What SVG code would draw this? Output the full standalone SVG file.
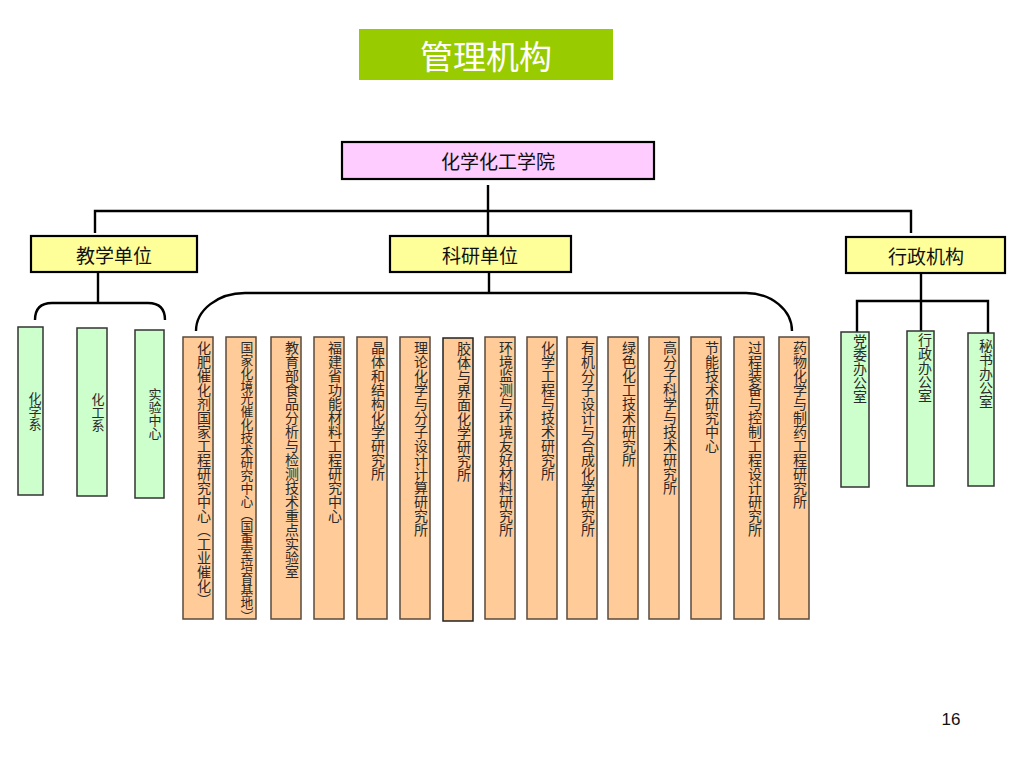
<svg xmlns="http://www.w3.org/2000/svg" width="1024" height="768" viewBox="0 0 1024 768">
<style>
text{font-family:"Noto Sans CJK SC","Noto Sans",sans-serif;fill:#111}
.hdr{stroke:#000;stroke-width:2.2}
.head{font-size:19px;text-anchor:middle;dominant-baseline:central}
.or{fill:#FFCC99;stroke:#5a4a3c;stroke-width:1.5}
.gr{fill:#CCFFCC;stroke:#333;stroke-width:1.5}
.vt{writing-mode:vertical-rl;font-size:14px;fill:#2a2a2a}
.vs{writing-mode:vertical-rl;font-size:12.8px;fill:#2a2a2a}
.vc{writing-mode:vertical-rl;font-size:13px;text-anchor:middle;fill:#2a2a2a}
.ln{fill:none;stroke:#000;stroke-width:2.4}
</style>
<rect width="1024" height="768" fill="#fff"/>
<g id="title">
<rect x="359" y="29" width="254" height="51" fill="#99CC00"/>
<text x="486" y="55" font-size="33" text-anchor="middle" dominant-baseline="central" style="fill:#fff">管理机构</text>
</g>
<g id="connectors">
<path class="ln" d="M488,185 V236 M95,233 V211 H911 V233"/>
<path class="ln" d="M98,273 V303 M35,320 Q35,303 52,303 H148 Q165,303 165,320"/>
<path class="ln" d="M489,273 V293 M196,331 A49 38 0 0 1 245,293 H746 A46 38 0 0 1 792,331"/>
<path class="ln" d="M921,273 V331 M857,332 V301 H988 V333"/>
</g>
<g id="root"><rect class="hdr" x="342" y="142" width="312" height="37" fill="#FFCCFF"/><text class="head" x="498" y="160">化学化工学院</text></g>
<g id="teach"><rect class="hdr" x="31" y="236" width="166" height="36" fill="#FFFF99"/><text class="head" x="114" y="254">教学单位</text></g>
<g id="research"><rect class="hdr" x="390" y="236" width="181" height="36" fill="#FFFF99"/><text class="head" x="480" y="254">科研单位</text></g>
<g id="admin"><rect class="hdr" x="846" y="237" width="159" height="36" fill="#FFFF99"/><text class="head" x="926" y="255">行政机构</text></g>
<g id="t1"><rect class="gr" x="18" y="327" width="25" height="168"/><text class="vc" x="35" y="411">化学系</text></g>
<g id="t2"><rect class="gr" x="77" y="328" width="30" height="168"/><text class="vc" x="98" y="412">化工系</text></g>
<g id="t3"><rect class="gr" x="135" y="330" width="29" height="168"/><text class="vc" x="155" y="414">实验中心</text></g>
<g id="r1"><rect class="or" x="183" y="337" width="30" height="282"/><text class="vt" x="204" y="341">化肥催化剂国家工程研究中心（工业催化）</text></g>
<g id="r2"><rect class="or" x="226" y="337" width="30" height="282"/><text class="vs" x="247" y="341">国家化境光催化技术研究中心（国重室培育基地）</text></g>
<g id="r3"><rect class="or" x="271" y="337" width="30" height="282"/><text class="vt" x="292" y="341">教育部食品分析与检测技术重点实验室</text></g>
<g id="r4"><rect class="or" x="314" y="337" width="30" height="282"/><text class="vt" x="335" y="341">福建省功能材料工程研究中心</text></g>
<g id="r5"><rect class="or" x="357" y="337" width="30" height="282"/><text class="vt" x="378" y="341">晶体和结构化学研究所</text></g>
<g id="r6"><rect class="or" x="400" y="337" width="30" height="282"/><text class="vt" x="421" y="341">理论化学与分子设计计算研究所</text></g>
<g id="r7"><rect class="or" x="443" y="338" width="30" height="283" style="stroke:#222"/><text class="vt" x="464" y="342">胶体与界面化学研究所</text></g>
<g id="r8"><rect class="or" x="485" y="337" width="30" height="282"/><text class="vt" x="506" y="341">环境监测与环境友好材料研究所</text></g>
<g id="r9"><rect class="or" x="527" y="337" width="30" height="282"/><text class="vt" x="548" y="341">化学工程与技术研究所</text></g>
<g id="r10"><rect class="or" x="567" y="337" width="30" height="282"/><text class="vt" x="588" y="341">有机分子设计与合成化学研究所</text></g>
<g id="r11"><rect class="or" x="608" y="337" width="30" height="282"/><text class="vt" x="629" y="341">绿色化工技术研究所</text></g>
<g id="r12"><rect class="or" x="649" y="337" width="30" height="282"/><text class="vt" x="670" y="341">高分子科学与技术研究所</text></g>
<g id="r13"><rect class="or" x="691" y="337" width="30" height="282"/><text class="vt" x="712" y="341">节能技术研究中心</text></g>
<g id="r14"><rect class="or" x="734" y="337" width="30" height="282"/><text class="vt" x="755" y="341">过程装备与控制工程设计研究所</text></g>
<g id="r15"><rect class="or" x="779" y="337" width="30" height="282"/><text class="vt" x="800" y="341">药物化学与制药工程研究所</text></g>
<g id="a1"><rect class="gr" x="841" y="332" width="28" height="155"/><text class="vt" x="860" y="334">党委办公室</text></g>
<g id="a2"><rect class="gr" x="907" y="331" width="27" height="155"/><text class="vt" x="925" y="333">行政办公室</text></g>
<g id="a3"><rect class="gr" x="968" y="333" width="26" height="153"/><text class="vt" x="986" y="339">秘书办公室</text></g>
<text x="951" y="725" font-size="17" text-anchor="middle" style="font-family:'Liberation Sans',sans-serif">16</text>
</svg>
